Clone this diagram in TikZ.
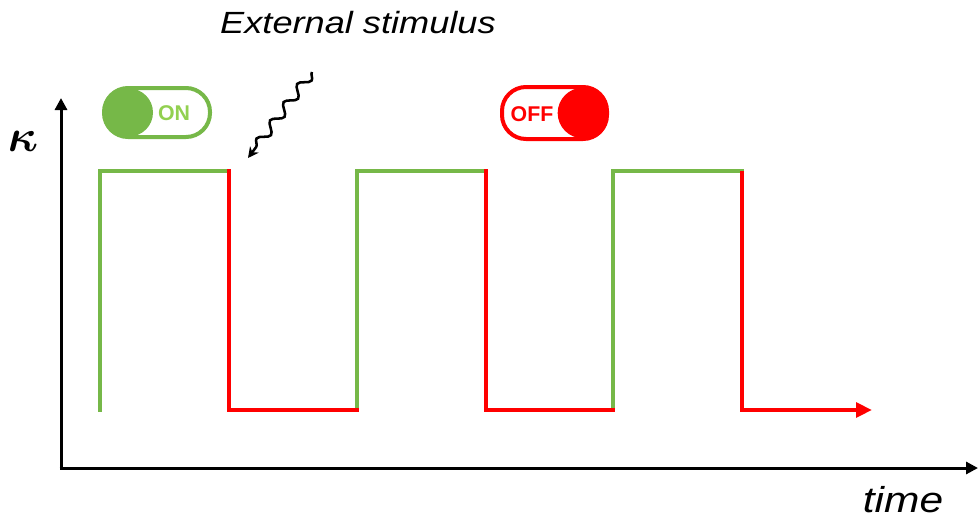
\documentclass[tikz,border=0pt]{standalone}
\usepackage{fontspec}
\usepackage{bm}
\usetikzlibrary{decorations.pathmorphing,arrows.meta}
\newfontfamily\labelfont[FakeStretch=1.18]{Liberation Sans}
\newfontfamily\switchfont{Liberation Sans}
\definecolor{ongreen}{RGB}{118,184,72}
\definecolor{ontext}{RGB}{146,208,80}
\definecolor{offred}{RGB}{255,0,0}
\tikzset{
  axis/.style={line width=2.25pt,-{Triangle[length=9pt,width=9pt]}},
  onseg/.style={line width=3pt,ongreen,line cap=rect},
  offseg/.style={line width=3pt,offred,line cap=rect},
  pill/.style={line width=3pt,rounded corners=18pt},
  stim/.style={line width=1.9pt,decorate,
    decoration={snake,segment length=17pt,amplitude=3.6pt,post length=7pt},
    -{Stealth[length=8pt,width=8pt]}},
}
\begin{document}
\begin{tikzpicture}[x=0.75pt,y=-0.75pt]
\useasboundingbox (0,0) rectangle (979,519);

% axes
\coordinate (O) at (61,468);
\coordinate (ytop) at (61,98);
\coordinate (xend) at (978,468);
\draw[axis] (O) -- (ytop);
\draw[axis] ([xshift=-1.1pt]O) -- (xend);
\node (kappa) at (23,141) {\scalebox{3.4}{$\bm{\kappa}$}};
\node[anchor=base,inner sep=0pt] (time) at (903,512) {\labelfont\fontsize{27}{27}\selectfont\itshape time};

% square wave: levels
\foreach \n/\x in {0/100,1/229,2/357,3/486,4/613,5/742}{
  \coordinate (t\n) at (\x,171);
  \coordinate (b\n) at (\x,410);
}
\coordinate (bend) at (872,410);

\draw[onseg] (b0) -- (t0) -- (t1);
\draw[onseg] (b2) -- (t2) -- (t3);
\draw[onseg] (b4) -- (t4) -- (t5);
\draw[offseg] (t1) -- (b1) -- (b2);
\draw[offseg] (t3) -- (b3) -- (b4);
\draw[offseg,line cap=butt,-{Triangle[length=12pt,width=11pt]}] (t5) -- (b5) -- (bend);

% external stimulus
\node[anchor=base] (stimtext) at (358,33) {\labelfont\fontsize{23}{23}\selectfont\itshape External stimulus};
\coordinate (stimstart) at (312,72);
\coordinate (stimend) at (248,158);
\draw[stim] (stimstart) -- (stimend);

% ON switch
\draw[pill,ongreen] (104,88) rectangle (210,137);
\fill[ongreen] (129,112.5) circle[radius=18pt];
\node[text=ontext] (ontxt) at (174,113.5) {\switchfont\fontsize{16}{16}\selectfont\bfseries ON};

% OFF switch
\draw[pill,offred] (502,87) rectangle (607,139);
\fill[offred] (583,113) circle[radius=19pt];
\node[text=offred] (offtxt) at (532,114) {\switchfont\fontsize{16}{16}\selectfont\bfseries OFF};
\end{tikzpicture}
\end{document}
